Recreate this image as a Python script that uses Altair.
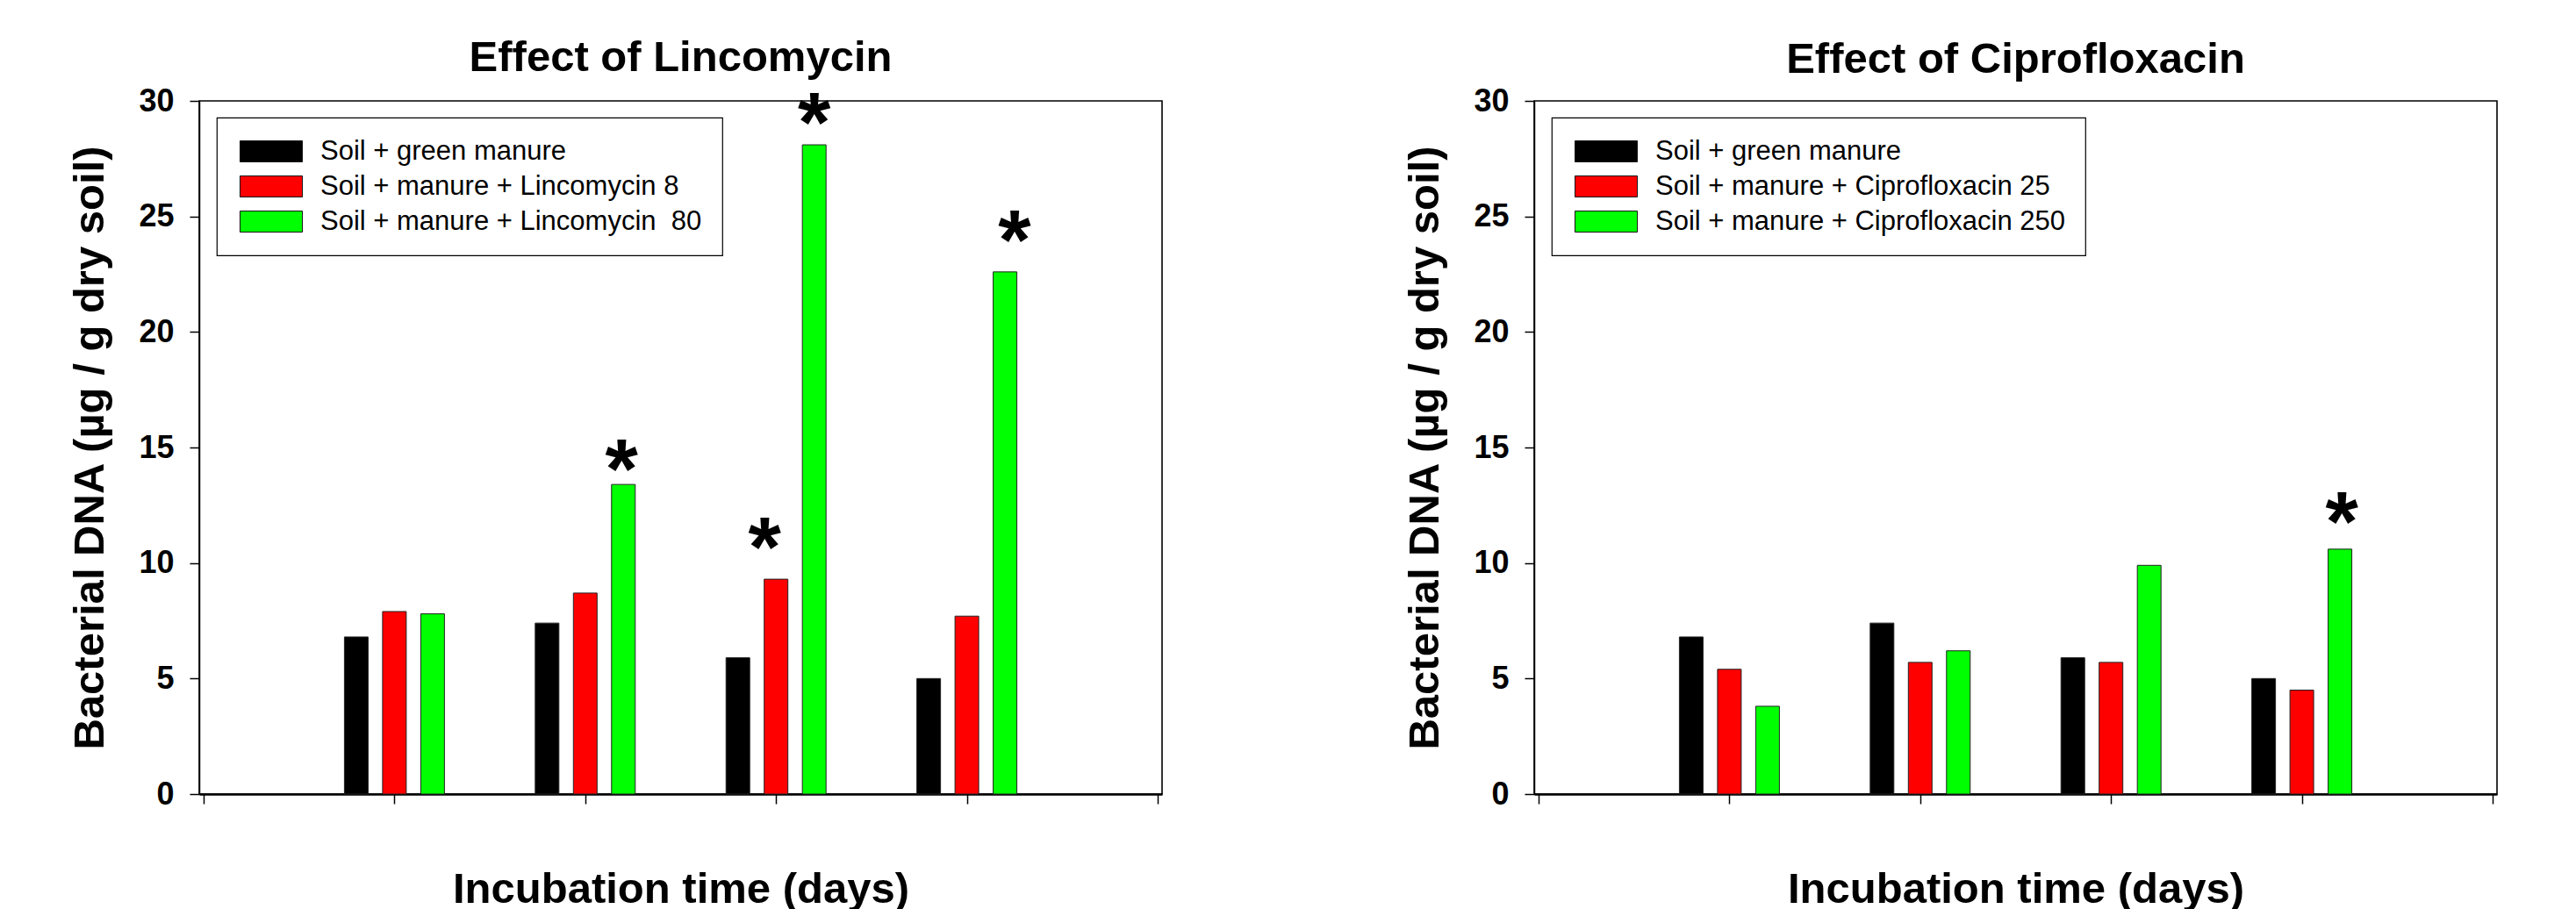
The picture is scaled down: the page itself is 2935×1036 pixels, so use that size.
import altair as alt
import pandas as pd

FONT = "Liberation Sans"

# ---------------- data ----------------
group_positions = [1, 2, 3, 4]          # incubation sampling times (unlabelled in the figure)
x_ticks = [0, 1, 2, 3, 4, 5]
y_ticks = [0, 5, 10, 15, 20, 25, 30]

linco_labels = ["Soil + green manure",
                "Soil + manure + Lincomycin 8",
                "Soil + manure + Lincomycin \u00a080"]
linco_control = [6.8, 7.4, 5.9, 5.0]
linco_low = [7.9, 8.7, 9.3, 7.7]
linco_high = [7.8, 13.4, 28.1, 22.6]
linco_star_x = [2.19, 2.94, 3.20, 4.25]
linco_star_y = [14.6, 11.2, 29.6, 24.5]

cipro_labels = ["Soil + green manure",
                "Soil + manure + Ciprofloxacin 25",
                "Soil + manure + Ciprofloxacin 250"]
cipro_control = [6.8, 7.4, 5.9, 5.0]
cipro_low = [5.4, 5.7, 5.7, 4.5]
cipro_high = [3.8, 6.2, 9.9, 10.6]
cipro_star_x = [4.21]
cipro_star_y = [12.3]

colors = ["#000000", "#ff0000", "#00ff00"]
bar_offsets = [-0.2, 0.0, 0.2]

PLOT_W = 1097
PLOT_H = 790


def panel(title, labels, series, star_x, star_y):
    rows = []
    for lab, off, vals in zip(labels, bar_offsets, series):
        for g, v in zip(group_positions, vals):
            rows.append({"pos": g + off, "value": v, "treatment": lab})
    bars_df = pd.DataFrame(rows)
    stars_df = pd.DataFrame({"pos": star_x, "value": star_y, "mark": ["*"] * len(star_x)})

    x_enc = alt.X(
        "pos:Q",
        scale=alt.Scale(domain=[0, 5], nice=False, zero=False),
        axis=alt.Axis(values=x_ticks, labels=False, grid=False,
                      title="Incubation time (days)",
                      titleX=PLOT_W / 2, titleY=123,
                      titleBaseline="alphabetic", titleAlign="center"),
    )
    y_enc = alt.Y(
        "value:Q",
        scale=alt.Scale(domain=[0, 30], nice=False),
        axis=alt.Axis(values=y_ticks, grid=False,
                      title="Bacterial DNA (µg / g dry soil)",
                      titleX=-110, titleY=PLOT_H / 2, titleAngle=270,
                      titleBaseline="alphabetic", titleAlign="center"),
    )

    legend = alt.Legend(
        title=None, orient="none", legendX=20, legendY=19, direction="vertical",
        symbolType="M-1,-1H4.92V1H-1Z", symbolSize=576,
        symbolStrokeColor="#111111", symbolStrokeWidth=1, symbolOpacity=1,
        labelFont=FONT, labelFontSize=31, labelColor="black", labelLimit=900,
        labelOffset=64, rowPadding=8, padding=23,
        strokeColor="black", fillColor="white",
    )

    bars = alt.Chart(bars_df).mark_bar(size=27, stroke="#222222", strokeWidth=1).encode(
        x=x_enc,
        y=y_enc,
        color=alt.Color("treatment:N",
                        scale=alt.Scale(domain=labels, range=colors),
                        sort=labels, legend=legend),
    )

    stars = alt.Chart(stars_df).mark_text(
        fontSize=96, fontWeight="bold", font=FONT, baseline="alphabetic",
        align="center", dy=46, color="black",
    ).encode(
        x=alt.X("pos:Q"),
        y=alt.Y("value:Q"),
        text="mark:N",
    )

    return alt.layer(bars, stars).properties(
        width=PLOT_W, height=PLOT_H,
        title=alt.TitleParams(text=title, fontSize=49, font=FONT, fontWeight="bold",
                              anchor="middle", frame="group", baseline="alphabetic",
                              offset=-35, color="black"),
    )


left = panel("Effect of Lincomycin", linco_labels,
             [linco_control, linco_low, linco_high], linco_star_x, linco_star_y)
right = panel("Effect of Ciprofloxacin", cipro_labels,
              [cipro_control, cipro_low, cipro_high], cipro_star_x, cipro_star_y)

chart = alt.hconcat(left, right, spacing=424, bounds="flush").resolve_scale(
    color="independent"
).properties(
    autosize=alt.AutoSizeParams(type="pad"),
    padding={"left": 69, "top": 32, "right": 0, "bottom": 0},
).configure_view(
    stroke="black", strokeWidth=1.6
).configure_axis(
    labelFont=FONT, labelFontSize=36, labelFontWeight="bold", labelColor="black",
    labelPadding=18, tickSize=11, tickColor="black", tickWidth=1.5,
    domainColor="black", domainWidth=1.5,
    titleFont=FONT, titleFontSize=49, titleFontWeight="bold", titleColor="black",
).configure_axisX(
    domainWidth=2.5
).configure_legend(
    strokeWidth=1.2
)

chart.save("out.html", embed_options={"renderer": "svg", "actions": False})
